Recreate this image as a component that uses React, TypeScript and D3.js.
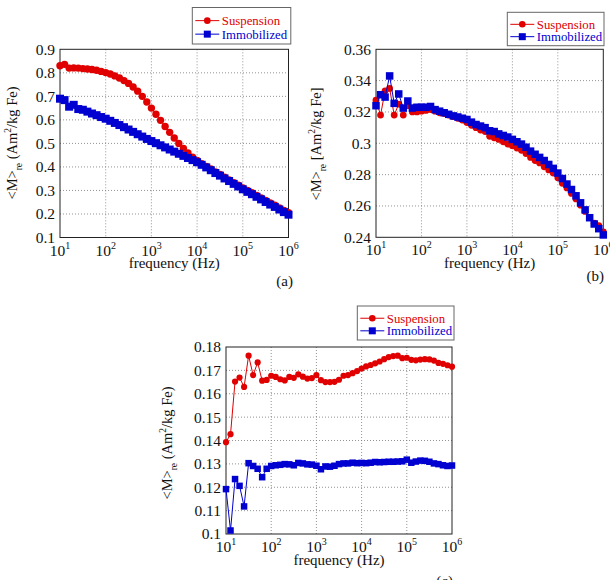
import * as d3 from "d3";

// frequency sweep, 10 points per decade
const freqHz = [
  10, 12.59, 15.85, 19.95, 25.12, 31.62, 39.81, 50.12, 63.1, 79.43,
  100, 125.9, 158.5, 199.5, 251.2, 316.2, 398.1, 501.2, 631, 794.3,
  1e3, 1259, 1585, 1995, 2512, 3162, 3981, 5012, 6310, 7943,
  1e4, 12590, 15850, 19950, 25120, 31620, 39810, 50120, 63100, 79430,
  1e5, 125900, 158500, 199500, 251200, 316200, 398100, 501200, 631000, 794300,
  1e6,
];

const suspA = [
  0.83, 0.836, 0.82, 0.821, 0.82, 0.818, 0.816, 0.814, 0.811, 0.806,
  0.801, 0.795, 0.787, 0.778, 0.767, 0.755, 0.74, 0.722, 0.7, 0.676,
  0.65, 0.624, 0.598, 0.572, 0.547, 0.523, 0.5, 0.479, 0.459, 0.441,
  0.427, 0.414, 0.402, 0.391, 0.379, 0.368, 0.356, 0.345, 0.333, 0.322,
  0.311, 0.3, 0.29, 0.279, 0.268, 0.258, 0.247, 0.237, 0.226, 0.215,
  0.205,
];
const immobA = [
  0.69, 0.684, 0.656, 0.664, 0.646, 0.643, 0.635, 0.627, 0.62, 0.612,
  0.605, 0.596, 0.587, 0.578, 0.569, 0.559, 0.549, 0.539, 0.529, 0.519,
  0.51, 0.501, 0.492, 0.483, 0.474, 0.465, 0.456, 0.447, 0.438, 0.429,
  0.42, 0.409, 0.398, 0.386, 0.374, 0.363, 0.351, 0.34, 0.328, 0.317,
  0.305, 0.294, 0.284, 0.273, 0.262, 0.251, 0.24, 0.23, 0.219, 0.208,
  0.197,
];

const suspB = [
  0.3275, 0.318, 0.3335, 0.335, 0.318, 0.325, 0.318, 0.324, 0.32, 0.32,
  0.3205, 0.321, 0.3215, 0.3205, 0.3195, 0.319, 0.318, 0.317, 0.316, 0.3148,
  0.3132, 0.3115, 0.31, 0.3085, 0.3075, 0.3045, 0.3035, 0.3025, 0.301, 0.2995,
  0.2985, 0.297, 0.2955, 0.2935, 0.291, 0.289, 0.2875, 0.285, 0.283, 0.281,
  0.278, 0.2745, 0.2715, 0.268, 0.2645, 0.2605, 0.2565, 0.2525, 0.249, 0.2475,
  0.2435,
];
const immobB = [
  0.324, 0.331, 0.3295, 0.343, 0.3255, 0.3315, 0.3225, 0.327, 0.3225, 0.323,
  0.323, 0.323, 0.3235, 0.3215, 0.3205, 0.3195, 0.3185, 0.3175, 0.3168, 0.316,
  0.3152, 0.3135, 0.312, 0.311, 0.31, 0.308, 0.3075, 0.306, 0.305, 0.304,
  0.3025, 0.301, 0.2995, 0.2975, 0.295, 0.293, 0.291, 0.289, 0.2865, 0.284,
  0.281, 0.2775, 0.274, 0.2705, 0.2665, 0.262, 0.2575, 0.2525, 0.2485, 0.2455,
  0.2415,
];

const suspC = [
  0.1393, 0.1427, 0.1652, 0.1669, 0.1629, 0.1763, 0.168, 0.1734, 0.1656, 0.1659,
  0.1677, 0.1672, 0.1662, 0.1657, 0.1672, 0.1668, 0.1683, 0.1673, 0.1665, 0.1667,
  0.168, 0.1658, 0.165, 0.165, 0.1651, 0.166, 0.1677, 0.168, 0.1688, 0.1697,
  0.1708, 0.1717, 0.1723, 0.173, 0.1738, 0.1748, 0.1757, 0.1761, 0.1763, 0.1752,
  0.1754, 0.1745, 0.1743, 0.1746, 0.1748, 0.1747, 0.1742, 0.1732, 0.1728, 0.1722,
  0.1716,
];
const immobC = [
  0.1192, 0.1015, 0.1235, 0.1206, 0.1118, 0.1303, 0.1291, 0.1279, 0.1243, 0.1279,
  0.1291, 0.1294, 0.1296, 0.1299, 0.1298, 0.1294, 0.1304, 0.1302, 0.1298, 0.1297,
  0.1292, 0.1277, 0.1289, 0.1288, 0.1292, 0.1299, 0.1302, 0.1302, 0.1305, 0.1303,
  0.1304, 0.1303, 0.1305, 0.1308, 0.1307, 0.1308, 0.1309, 0.1309, 0.131, 0.1311,
  0.1318, 0.1305, 0.131, 0.1314, 0.1313, 0.1309, 0.1302, 0.1299, 0.1294, 0.1291,
  0.1293,
];

const decades = [1, 2, 3, 4, 5, 6];
const yTicksA = [0.1, 0.2, 0.3, 0.4, 0.5, 0.6, 0.7, 0.8, 0.9];
const yTicksB = [0.24, 0.26, 0.28, 0.3, 0.32, 0.34, 0.36];
const yTicksC = [0.1, 0.11, 0.12, 0.13, 0.14, 0.15, 0.16, 0.17, 0.18];

const RED = "#e00000";
const BLUE = "#0000d0";
const FONT = '"Liberation Serif", "DejaVu Serif", serif';

type Box = { x0: number; x1: number; y0: number; y1: number };

type PanelProps = {
  box: Box;
  yTicks: number[];
  susp: number[];
  immob: number[];
  legend: { x: number; y: number; w: number; h: number };
  tag: { text: string; x: number; y: number };
  xLabelY: number;
  yLabel: { x: number; y: number; open: string; close: string };
  r: number;
  side: number;
};

const Panel = ({ box, yTicks, susp, immob, legend, tag, xLabelY, yLabel, r, side }: PanelProps) => {
  const x = d3.scaleLog().domain([10, 1e6]).range([box.x0, box.x1]);
  const y = d3
    .scaleLinear()
    .domain([yTicks[0], yTicks[yTicks.length - 1]])
    .range([box.y1, box.y0]);

  const line = d3
    .line<number>()
    .x((_, i) => x(freqHz[i]))
    .y((d) => y(d));

  const rowY = [legend.y + legend.h * 0.36, legend.y + legend.h * 0.73];
  const lx0 = legend.x + 3;
  const lx1 = legend.x + 27;

  return (
    <g>
      {/* grid */}
      {decades.slice(1, -1).map((p) => (
        <line key={"gx" + p} x1={x(10 ** p)} x2={x(10 ** p)} y1={box.y0} y2={box.y1}
          stroke="#777" strokeWidth={0.8} strokeDasharray="1,2" />
      ))}
      {yTicks.slice(1, -1).map((t) => (
        <line key={"gy" + t} x1={box.x0} x2={box.x1} y1={y(t)} y2={y(t)}
          stroke="#777" strokeWidth={0.8} strokeDasharray="1,2" />
      ))}
      <rect x={box.x0} y={box.y0} width={box.x1 - box.x0} height={box.y1 - box.y0}
        fill="none" stroke="#222" strokeWidth={1} />

      {/* y tick labels */}
      {yTicks.map((t) => (
        <text key={"ty" + t} x={box.x0 - 5} y={y(t)} dy="0.35em" textAnchor="end" fontSize={15.5} fill="#111">
          {String(t)}
        </text>
      ))}
      {/* x tick labels */}
      {decades.map((p) => (
        <text key={"tx" + p} x={x(10 ** p)} y={box.y1 + 18} textAnchor="middle" fontSize={15.5} fill="#111">
          10
          <tspan fontSize={10} dy={-7}>{p}</tspan>
        </text>
      ))}
      <text x={(box.x0 + box.x1) / 2} y={xLabelY} textAnchor="middle" fontSize={15} fill="#111">
        frequency (Hz)
      </text>
      <text transform={`translate(${yLabel.x},${yLabel.y}) rotate(-90)`} textAnchor="middle" fontSize={14.5} fill="#111">
        {"<M>"}
        <tspan fontSize={9.5} dy={5}>re</tspan>
        <tspan dy={-5}>{` ${yLabel.open}Am`}</tspan>
        <tspan fontSize={9.5} dy={-6}>2</tspan>
        <tspan dy={6}>{`/kg Fe${yLabel.close}`}</tspan>
      </text>
      <text x={tag.x} y={tag.y} textAnchor="end" fontSize={15} fill="#111">{tag.text}</text>

      {/* series */}
      <path d={line(susp) ?? ""} fill="none" stroke={RED} strokeWidth={1} />
      {susp.map((v, i) => (
        <circle key={"s" + i} cx={x(freqHz[i])} cy={y(v)} r={r} fill={RED} />
      ))}
      <path d={line(immob) ?? ""} fill="none" stroke={BLUE} strokeWidth={1} />
      {immob.map((v, i) => (
        <rect key={"m" + i} x={x(freqHz[i]) - side / 2} y={y(v) - side / 2} width={side} height={side} fill={BLUE} />
      ))}

      {/* legend */}
      <rect x={legend.x} y={legend.y} width={legend.w} height={legend.h} fill="#fff" stroke="#666" strokeWidth={1} />
      <line x1={lx0} x2={lx1} y1={rowY[0]} y2={rowY[0]} stroke={RED} strokeWidth={1} />
      <circle cx={(lx0 + lx1) / 2} cy={rowY[0]} r={3.3} fill={RED} />
      <text x={legend.x + 29.5} y={rowY[0]} dy="0.35em" fontSize={12.8} fill={RED}>Suspension</text>
      <line x1={lx0} x2={lx1} y1={rowY[1]} y2={rowY[1]} stroke={BLUE} strokeWidth={1} />
      <rect x={(lx0 + lx1) / 2 - 3.5} y={rowY[1] - 3.5} width={7} height={7} fill={BLUE} />
      <text x={legend.x + 29.5} y={rowY[1]} dy="0.35em" fontSize={12.8} fill={BLUE}>Immobilized</text>
    </g>
  );
};

export default function App() {
  return (
    <svg width={610} height={580} fontFamily={FONT}
      style={{ position: "absolute", left: 0, top: 0, background: "#fff", fontFamily: FONT }}>
      <Panel
        box={{ x0: 60, x1: 288.5, y0: 49.3, y1: 237.5 }}
        yTicks={yTicksA}
        susp={suspA}
        immob={immobA}
        legend={{ x: 192.3, y: 7.5, w: 98.5, h: 36.5 }}
        tag={{ text: "(a)", x: 293, y: 286 }}
        xLabelY={268}
        yLabel={{ x: 17, y: 143, open: "(", close: ")" }}
        r={3.7}
        side={8}
      />
      <Panel
        box={{ x0: 376, x1: 603.3, y0: 49.3, y1: 237.3 }}
        yTicks={yTicksB}
        susp={suspB}
        immob={immobB}
        legend={{ x: 507.3, y: 12.3, w: 96.7, h: 33.4 }}
        tag={{ text: "(b)", x: 604, y: 281 }}
        xLabelY={268}
        yLabel={{ x: 321, y: 144, open: "[", close: "]" }}
        r={3.4}
        side={7.5}
      />
      <Panel
        box={{ x0: 226, x1: 452, y0: 347, y1: 534 }}
        yTicks={yTicksC}
        susp={suspC}
        immob={immobC}
        legend={{ x: 357.3, y: 306, w: 96.7, h: 34 }}
        tag={{ text: "(c)", x: 453, y: 586 }}
        xLabelY={565}
        yLabel={{ x: 172, y: 443, open: "(", close: ")" }}
        r={3.1}
        side={6.5}
      />
    </svg>
  );
}
